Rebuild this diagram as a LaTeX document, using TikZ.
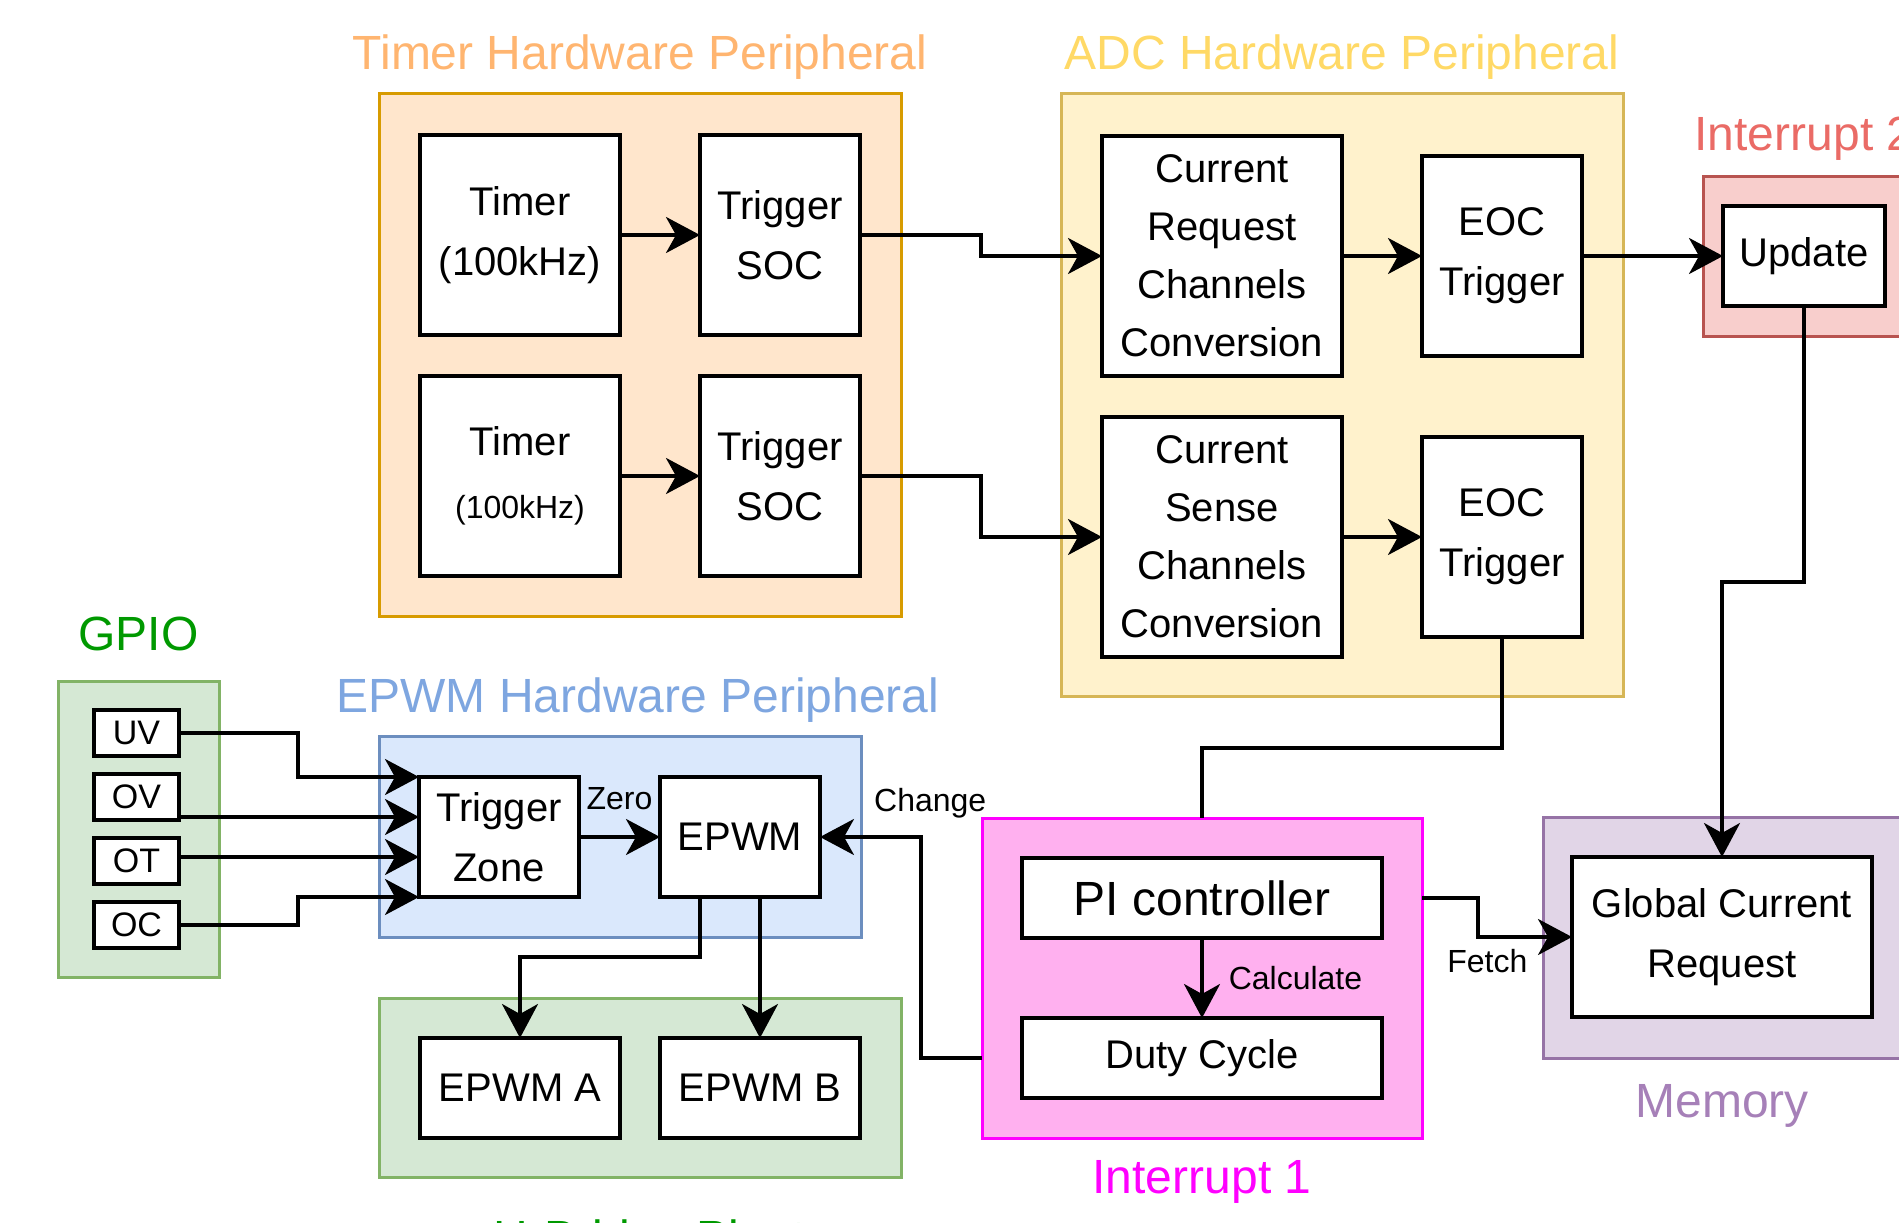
\documentclass[tikz,border=0pt]{standalone}
\usepackage{fontspec}
\setmainfont{Liberation Sans}
\usetikzlibrary{positioning,calc,arrows.meta}

\definecolor{timerFill}{HTML}{FFE6CC}
\definecolor{timerLine}{HTML}{D79B00}
\definecolor{timerText}{HTML}{FFB570}
\definecolor{adcFill}{HTML}{FFF2CC}
\definecolor{adcLine}{HTML}{D6B656}
\definecolor{adcText}{HTML}{FFD966}
\definecolor{intTwoFill}{HTML}{F8CECC}
\definecolor{intTwoLine}{HTML}{B85450}
\definecolor{intTwoText}{HTML}{EA6B66}
\definecolor{greenFill}{HTML}{D5E8D4}
\definecolor{greenLine}{HTML}{82B366}
\definecolor{greenText}{HTML}{009900}
\definecolor{epwmFill}{HTML}{DAE8FC}
\definecolor{epwmLine}{HTML}{6C8EBF}
\definecolor{epwmText}{HTML}{7EA6E0}
\definecolor{intOneFill}{HTML}{FFB0EF}
\definecolor{intOneLine}{HTML}{FF00FF}
\definecolor{memFill}{HTML}{E1D5E7}
\definecolor{memLine}{HTML}{9673A6}
\definecolor{memText}{HTML}{A680B8}

\tikzstyle{Block} = [draw, line width=4pt, fill=white, align=center, inner sep=0pt, outer sep=0pt, font=\fontsize{40}{60}\selectfont]
\tikzstyle{Pin} = [Block, font=\fontsize{34}{40}\selectfont, minimum width=85pt, minimum height=46pt]
\tikzstyle{Group} = [draw, line width=3pt, inner sep=0pt, outer sep=0pt]
\tikzstyle{GroupLabel} = [inner sep=0pt, outer sep=0pt, text height=36pt, text depth=10pt, font=\fontsize{48}{58}\selectfont]
\tikzstyle{EdgeLabel} = [inner sep=0pt, font=\fontsize{32}{38}\selectfont]
\tikzstyle{Link} = [line width=3.5pt, -{Stealth[length=34pt, width=36pt, inset=10pt]}]
\tikzstyle{Wire} = [line width=3.5pt]

\begin{document}
\begin{tikzpicture}[x=1pt, y=-1pt]

    \useasboundingbox (0,0) rectangle (1899,1223);
    \clip (0,0) rectangle (1899,1223);

    % timer peripheral
    \node[Group, fill=timerFill, draw=timerLine, minimum width=522pt, minimum height=522pt] (timerbox) at (640,355) {};
    \node[GroupLabel, text=timerText, above=14pt of timerbox] (timerlabel) {Timer Hardware Peripheral};
    \node[Block, minimum width=200pt, minimum height=200pt] (timer1) at (520,235) {Timer\\(100kHz)};
    \node[Block, minimum width=160pt, minimum height=200pt, right=80pt of timer1] (soc1) {Trigger\\SOC};
    \node[Block, font=\fontsize{40}{63}\selectfont, minimum width=200pt, minimum height=200pt, below=41pt of timer1] (timer2) {Timer\\{\fontsize{32}{40}\selectfont(100kHz)}};
    \node[Block, minimum width=160pt, minimum height=200pt, right=80pt of timer2] (soc2) {Trigger\\SOC};

    % adc peripheral
    \node[Group, fill=adcFill, draw=adcLine, minimum width=562pt, minimum height=602pt] (adcbox) at (1342,395) {};
    \node[GroupLabel, text=adcText, above=14pt of adcbox] (adclabel) {ADC Hardware Peripheral};
    \node[Block, font=\fontsize{40}{58}\selectfont, minimum width=240pt, minimum height=240pt] (curreq) at (1222,256) {Current\\Request\\Channels\\Conversion};
    \node[Block, minimum width=160pt, minimum height=200pt, right=80pt of curreq] (eoc1) {EOC\\Trigger};
    \node[Block, font=\fontsize{40}{58}\selectfont, minimum width=240pt, minimum height=240pt, below=41pt of curreq] (cursense) {Current\\Sense\\Channels\\Conversion};
    \node[Block, minimum width=160pt, minimum height=200pt, right=80pt of cursense] (eoc2) {EOC\\Trigger};

    % interrupt 2
    \node[Group, fill=intTwoFill, draw=intTwoLine, minimum width=202pt, minimum height=160pt] (int2box) at (1804,256) {};
    \node[GroupLabel, text=intTwoText, above=16pt of int2box] (int2label) {Interrupt 2};
    \node[Block, minimum width=162pt, minimum height=100pt] (update) at (1804,256) {Update};

    % gpio
    \node[Group, fill=greenFill, draw=greenLine, minimum width=161pt, minimum height=296pt] (gpiobox) at (138.5,829) {};
    \node[GroupLabel, text=greenText, above=21pt of gpiobox] (gpiolabel) {GPIO};
    \node[Pin] (uv) at (136.5,733) {UV};
    \node[Pin, below=18pt of uv] (ov) {OV};
    \node[Pin, below=18pt of ov] (ot) {OT};
    \node[Pin, below=18pt of ot] (oc) {OC};

    % epwm peripheral
    \node[Group, fill=epwmFill, draw=epwmLine, minimum width=482pt, minimum height=201pt] (epwmbox) at (620,836.5) {};
    \node[GroupLabel, text=epwmText, above=14pt of epwmbox, xshift=18pt] (epwmlabel) {EPWM Hardware Peripheral};
    \node[Block, minimum width=160pt, minimum height=120pt] (tz) at (499,837) {Trigger\\Zone};
    \node[Block, minimum width=160pt, minimum height=120pt, right=81pt of tz] (epwm) {EPWM};

    % h-bridge
    \node[Group, fill=greenFill, draw=greenLine, minimum width=522pt, minimum height=179pt] (hbox) at (640,1087.5) {};
    \node[GroupLabel, text=greenText, below=41pt of hbox, xshift=10pt] (hlabel) {H-Bridge Plant};
    \node[Block, minimum width=200pt, minimum height=100pt] (epwma) at (520,1088) {EPWM A};
    \node[Block, minimum width=200pt, minimum height=100pt, right=40pt of epwma] (epwmb) {EPWM B};

    % interrupt 1
    \node[Group, fill=intOneFill, draw=intOneLine, minimum width=440pt, minimum height=320pt] (int1box) at (1202,978) {};
    \node[GroupLabel, text=intOneLine, below=19pt of int1box] (int1label) {Interrupt 1};
    \node[Block, font=\fontsize{48}{58}\selectfont, minimum width=360pt, minimum height=80pt] (pi) at (1202,898) {PI controller};
    \node[Block, minimum width=360pt, minimum height=80pt, below=80pt of pi] (duty) {Duty Cycle};

    % memory
    \node[Group, fill=memFill, draw=memLine, minimum width=358pt, minimum height=241pt] (membox) at (1722,937.5) {};
    \node[GroupLabel, text=memText, below=23pt of membox] (memlabel) {Memory};
    \node[Block, minimum width=300pt, minimum height=160pt] (gcr) at (1722,937) {Global Current\\Request};

    % connections
    \coordinate (tz1) at ($(tz.north west)!1/3!(tz.south west)$);
    \coordinate (tz2) at ($(tz.north west)!2/3!(tz.south west)$);

    \draw[Link] (timer1) -- (soc1);
    \draw[Link] (timer2) -- (soc2);
    \draw[Link] (soc1.east) -- ++(121,0) |- (curreq.west);
    \draw[Link] (soc2.east) -- ++(121,0) |- (cursense.west);
    \draw[Link] (curreq) -- (eoc1);
    \draw[Link] (cursense) -- (eoc2);
    \draw[Link] (eoc1) -- (update);
    \draw[Link] (update.south) -- ++(0,276) -| (gcr.north);
    \draw[Wire] (eoc2.south) -- ++(0,111) -| (int1box.north);
    \draw[Link] (pi) -- node[EdgeLabel, right=25pt] (calclabel) {Calculate} (duty);
    \draw[Link] (int1box.east |- pi) -- ++(56,0) |- node[EdgeLabel, pos=0.55, below=11pt] (fetchlabel) {Fetch} (gcr.west);
    \draw[Link] (int1box.west |- duty) -- ++(-61,0) |- (epwm.east);
    \node[EdgeLabel, anchor=base west] (changelabel) at ($(epwm.east)+(54,-25.5)$) {Change};
    \draw[Link] (tz) -- node[EdgeLabel, above=25pt] (zerolabel) {Zero} (epwm);
    \draw[Link] ([xshift=-40pt]epwm.south) -- ++(0,60) -| (epwma.north);
    \draw[Link] (epwmb.north |- epwm.south) -- (epwmb.north);

    \draw[Link] (uv.east) -- ++(119,0) |- (tz.north west);
    \draw[Link] (ov.east |- tz1) -- (tz1);
    \draw[Link] (ot.east |- tz2) -- (tz2);
    \draw[Link] (oc.east) -- ++(119,0) |- (tz.south west);
  \end{tikzpicture}
\end{document}
